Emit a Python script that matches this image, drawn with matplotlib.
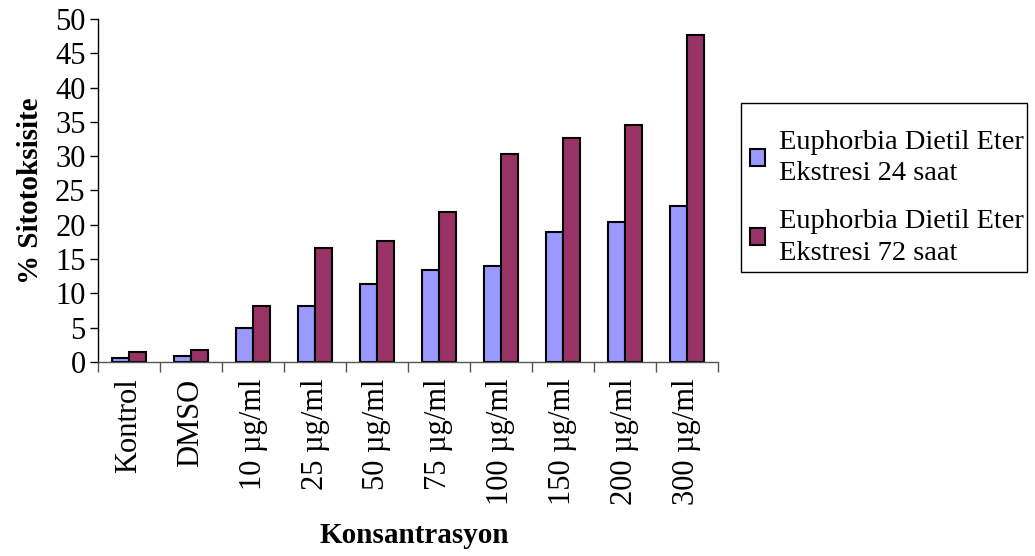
import numpy as np
import matplotlib.pyplot as plt
from matplotlib.patches import Rectangle
from matplotlib.ticker import FixedLocator, NullFormatter

categories = ["Kontrol", "DMSO", "10 µg/ml", "25 µg/ml", "50 µg/ml", "75 µg/ml",
              "100 µg/ml", "150 µg/ml", "200 µg/ml", "300 µg/ml"]
sitotoks_24h = [0.6, 0.9, 5.0, 8.2, 11.3, 13.4, 14.0, 19.0, 20.4, 22.7]
sitotoks_72h = [1.4, 1.7, 8.2, 16.6, 17.7, 21.9, 30.3, 32.6, 34.6, 47.6]
series_labels = ["Euphorbia Dietil Eter\nEkstresi 24 saat",
                 "Euphorbia Dietil Eter\nEkstresi 72 saat"]

plt.rcParams['font.family'] = ['Liberation Serif', 'DejaVu Serif']

W, H = 1035, 556
fig = plt.figure(figsize=(W / 100, H / 100), dpi=100)
ax = fig.add_axes([0.0947, 0.349, 0.599, 0.617])

x = np.arange(len(categories))
w = 0.28
ax.bar(x - w / 2, sitotoks_24h, w, color="#9999FF", edgecolor="black",
       linewidth=1.5, label=series_labels[0])
ax.bar(x + w / 2, sitotoks_72h, w, color="#993366", edgecolor="black",
       linewidth=1.5, label=series_labels[1])

ax.set_xlim(-0.5, len(categories) - 0.5)
ax.set_ylim(0, 50)
ax.set_yticks(np.arange(0, 51, 5))
ax.tick_params(axis='y', labelsize=22, length=6, width=1, direction='out', pad=3)

# category borders get the tick marks, labels sit in between
ax.xaxis.set_major_locator(FixedLocator(np.arange(-0.5, len(categories), 1.0)))
ax.xaxis.set_major_formatter(NullFormatter())
ax.xaxis.set_minor_locator(FixedLocator(x))
ax.set_xticklabels(categories, minor=True, rotation=90, fontsize=22)
ax.tick_params(axis='x', which='major', length=7, width=1, direction='out', color="#555555")
ax.tick_params(axis='x', which='minor', length=0, pad=12)

for side in ("top", "right"):
    ax.spines[side].set_visible(False)
ax.spines["left"].set_linewidth(1)
ax.spines["bottom"].set_linewidth(1)
ax.spines["bottom"].set_color("#555555")

ax.set_ylabel("% Sitotoksisite", fontsize=21, fontweight="bold", labelpad=8)
ax.set_xlabel("Konsantrasyon", fontsize=21, fontweight="bold", labelpad=12)
ax.xaxis.label.set_x(0.51)

# legend entries without their own frame; the box is drawn separately
leg = ax.legend(loc="upper left", bbox_to_anchor=(741 / W, 1 - 121 / H),
                bbox_transform=fig.transFigure, fontsize=20.5, frameon=False,
                handlelength=0.55, handleheight=0.55, handletextpad=0.5,
                labelspacing=0.8, borderpad=0.3, borderaxespad=0)
for t in leg.get_texts():
    t.set_linespacing(1.35)

fig.patches.append(Rectangle((741 / W, 1 - 272 / H), 286 / W, 169 / H,
                             transform=fig.transFigure, fill=False,
                             edgecolor="black", linewidth=1))

fig.savefig("out.png", dpi=100)
